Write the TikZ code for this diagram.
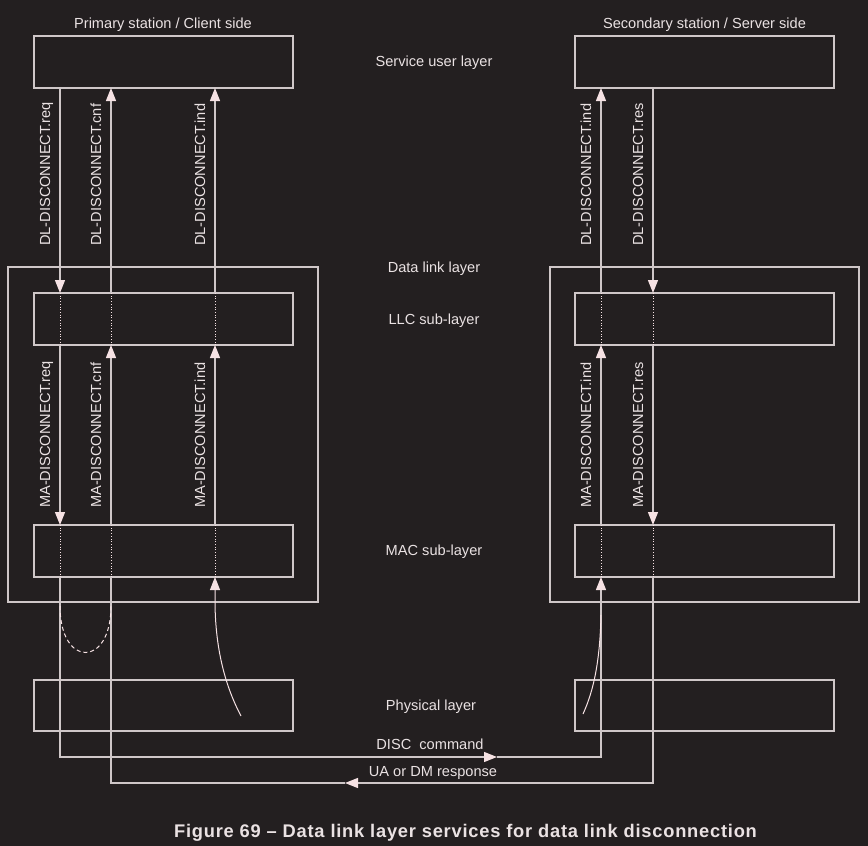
\documentclass[tikz,border=0pt]{standalone}
\usepackage{fontspec}
\setmainfont{Liberation Sans}
\usetikzlibrary{arrows.meta,calc}
\definecolor{bg}{HTML}{231F20}
\definecolor{ln}{HTML}{CFC7C8}
\definecolor{ah}{HTML}{F6E2E4}
\definecolor{tx}{HTML}{EAE2E3}
\begin{document}
\begin{tikzpicture}[x=1pt,y=-1pt,
 box/.style={draw=ln, line width=1.3pt, rectangle, inner sep=0pt, outer sep=0pt},
 conn/.style={draw=ln, line width=1.3pt},
 arr/.style={conn, -{Triangle[length=13pt,width=10pt,color=ah]}},
 thinarr/.style={draw=ah, line width=1pt, -{Triangle[length=13pt,width=10pt,color=ah]}},
 dots/.style={draw=ah, line width=0.7pt, dotted},
 lbl/.style={text=tx, font=\fontsize{14.6}{17}\selectfont, inner sep=0pt, anchor=base},
 vlbl/.style={text=tx, font=\fontsize{14.6}{17}\selectfont, inner sep=0pt, rotate=90, anchor=base west},
]
\fill[bg] (0,0) rectangle (868,846);
\useasboundingbox (0,0) rectangle (868,846);

% boxes
\node[box, minimum width=259pt, minimum height=52pt] (suL) at (163.5,62) {};
\node[box, minimum width=259pt, minimum height=52pt] (suR) at (704.5,62) {};
\node[box, minimum width=310pt, minimum height=335pt] (dllL) at (163,434.5) {};
\node[box, minimum width=309pt, minimum height=335pt] (dllR) at (704.5,434.5) {};
\node[box, minimum width=259pt, minimum height=52pt] (llcL) at (163.5,319) {};
\node[box, minimum width=259pt, minimum height=52pt] (llcR) at (704.5,319) {};
\node[box, minimum width=259pt, minimum height=52pt] (macL) at (163.5,551) {};
\node[box, minimum width=259pt, minimum height=52pt] (macR) at (704.5,551) {};
\node[box, minimum width=259pt, minimum height=51pt] (phyL) at (163.5,705.5) {};
\node[box, minimum width=259pt, minimum height=51pt] (phyR) at (704.5,705.5) {};

% texts
\node[lbl] (tL) at (163,28) {Primary station / Client side};
\node[lbl] (tR) at (704.5,28) {Secondary station / Server side};
\node[lbl] (lsu) at (434,66) {Service user layer};
\node[lbl] (ldl) at (434,272) {Data link layer};
\node[lbl] (lllc) at (434,324) {LLC sub-layer};
\node[lbl] (lmac) at (434,555) {MAC sub-layer};
\node[lbl] (lphy) at (431,710) {Physical layer};
\node[lbl] (ldisc) at (430,749) {DISC\ \ command};
\node[lbl] (lua) at (433,776) {UA or DM response};
\node[text=tx, font=\bfseries\fontsize{18.3}{22}\selectfont\addfontfeatures{LetterSpace=4.2}, inner sep=0pt, anchor=base] (cap) at (465.5,837) {Figure 69 – Data link layer services for data link disconnection};

% x positions
\coordinate (xa) at (60,0);
\coordinate (xb) at (111,0);
\coordinate (xc) at (215,0);
\coordinate (xd) at (601,0);
\coordinate (xe) at (653,0);

% left req
\draw[arr] (suL.south -| xa) -- (llcL.north -| xa);
\draw[dots] (llcL.north -| xa) -- (llcL.south -| xa);
\draw[arr] (llcL.south -| xa) -- (macL.north -| xa);
\draw[dots] (macL.north -| xa) -- (macL.south -| xa);
\coordinate (d1) at (60,757);
\coordinate (d2) at (497,757);
\coordinate (d3) at (601,757);
\draw[arr] (macL.south -| xa) -- (d1) -- (d2);
\draw[arr] (d2) -- (d3) -- (macR.south -| xd);

% left cnf
\coordinate (u1) at (653,783);
\coordinate (u2) at (345,783);
\coordinate (u3) at (111,783);
\draw[arr] (macR.south -| xe) -- (u1) -- (u2);
\draw[conn] (u2) -- (u3) -- (macL.south -| xb);
\draw[dots] (macL.south -| xb) -- (macL.north -| xb);
\draw[arr] (macL.north -| xb) -- (llcL.south -| xb);
\draw[dots] (llcL.south -| xb) -- (llcL.north -| xb);
\draw[arr] (llcL.north -| xb) -- (suL.south -| xb);

% left ind
\coordinate (cL) at (241,716);
\draw[thinarr] (cL) .. controls (222,680) and (215,640) .. (215,600) -- (macL.south -| xc);
\draw[dots] (macL.south -| xc) -- (macL.north -| xc);
\draw[arr] (macL.north -| xc) -- (llcL.south -| xc);
\draw[dots] (llcL.south -| xc) -- (llcL.north -| xc);
\draw[arr] (llcL.north -| xc) -- (suL.south -| xc);

% dashed loop
\coordinate (q1) at (60,606);
\coordinate (q2) at (111,606);
\draw[draw=ah, line width=1pt, dash pattern=on 4pt off 3pt] (q1) .. controls (60,668) and (111,668) .. (q2);

% right ind
\coordinate (cR) at (583,714);
\draw[draw=ah, line width=1pt] (cR) .. controls (594,690) and (600,660) .. (601,615);
\draw[dots] (macR.south -| xd) -- (macR.north -| xd);
\draw[arr] (macR.north -| xd) -- (llcR.south -| xd);
\draw[dots] (llcR.south -| xd) -- (llcR.north -| xd);
\draw[arr] (llcR.north -| xd) -- (suR.south -| xd);

% right res
\draw[arr] (suR.south -| xe) -- (llcR.north -| xe);
\draw[dots] (llcR.north -| xe) -- (llcR.south -| xe);
\draw[arr] (llcR.south -| xe) -- (macR.north -| xe);
\draw[dots] (macR.north -| xe) -- (macR.south -| xe);

% vertical labels
\node[vlbl] (v1) at (50,246) {DL-DISCONNECT.req};
\node[vlbl] (v2) at (101,246) {DL-DISCONNECT.cnf};
\node[vlbl] (v3) at (205,246) {DL-DISCONNECT.ind};
\node[vlbl] (v4) at (591,246) {DL-DISCONNECT.ind};
\node[vlbl] (v5) at (643,246) {DL-DISCONNECT.res};
\node[vlbl] (w1) at (50,508) {MA-DISCONNECT.req};
\node[vlbl] (w2) at (101,508) {MA-DISCONNECT.cnf};
\node[vlbl] (w3) at (205,508) {MA-DISCONNECT.ind};
\node[vlbl] (w4) at (591,508) {MA-DISCONNECT.ind};
\node[vlbl] (w5) at (643,508) {MA-DISCONNECT.res};
\end{tikzpicture}
\end{document}
